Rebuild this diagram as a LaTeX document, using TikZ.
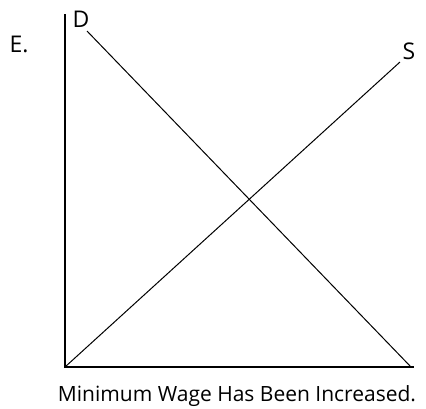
\documentclass[tikz,border=0pt]{standalone}
\usepackage{fontspec}
\setmainfont{Open Sans}
\begin{document}
\begin{tikzpicture}[x=1pt,y=-1pt,
  axis/.style={line width=1.2pt,black},
  curve/.style={line width=1pt,black},
  lbl/.style={font=\fontsize{21}{25}\selectfont,inner sep=0pt},
  tag/.style={font=\fontsize{23}{27}\selectfont,inner sep=0pt}]
\useasboundingbox (0,0) rectangle (426,408);
\coordinate (top) at (65,14);
\coordinate (O) at (65,367);
\coordinate (xend) at (414,367);
\coordinate (d1) at (87,31);
\coordinate (d2) at (411,367);
\coordinate (s2) at (400,62);
\draw[axis] (top) -- (O) -- (xend);
\draw[curve] (d1) -- (d2);
\draw[curve] (O) -- (s2);
\node[tag,anchor=base] (D) at (81,27) {D};
\node[tag,anchor=base] (S) at (409,59) {S};
\node[tag,anchor=base] (E) at (19,52) {E.};
\node[lbl,anchor=base] (cap) at (237,401) {Minimum Wage Has Been Increased.};
\end{tikzpicture}
\end{document}
